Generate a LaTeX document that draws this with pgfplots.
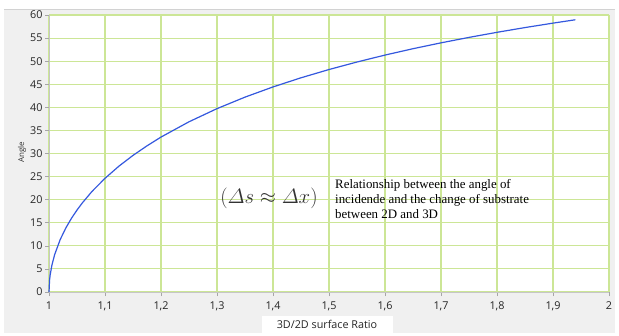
\documentclass[border=0pt]{standalone}
\usepackage{amsmath}
\usepackage{fontspec}
\setmainfont{Liberation Serif}
\newfontfamily\uifont{Open Sans}
\usepackage{pgfplots}
\pgfplotsset{compat=1.18}
\definecolor{gridgreen}{RGB}{204,230,150}
\definecolor{curveblue}{RGB}{52,88,222}
\definecolor{panelgray}{RGB}{240,240,240}
\begin{document}
\begin{tikzpicture}[x=1pt,y=1pt]
\useasboundingbox (0,0) rectangle (619,335);
\fill[panelgray] (4,2) rectangle (615,325);
\draw[gray!35,line width=1pt] (4,325) -- (615,325);
\begin{axis}[
  at={(49pt,43pt)}, anchor=south west,
  scale only axis, width=560pt, height=277pt,
  xmin=1, xmax=2, ymin=0, ymax=60,
  xtick={1,1.1,1.2,1.3,1.4,1.5,1.6,1.7,1.8,1.9,2},
  ytick={0,5,10,15,20,25,30,35,40,45,50,55,60},
  axis background/.style={fill=white},
  axis lines*=left,
  axis line style={gray!45, line width=0.8pt},
  tick align=outside,
  major tick length=4pt,
  tick style={gray!70, line width=0.6pt},
  xmajorgrids=true, ymajorgrids=true,
  major grid style={gridgreen, line width=1.1pt, solid},
  /pgf/number format/use comma,
  /pgf/number format/assume math mode=true,
  ticklabel style={font=\uifont\fontsize{10.8}{12}\selectfont, text=black!85},
  xticklabel style={yshift=-2pt},
  yticklabel style={xshift=1pt},
  clip=false,
]
\addplot[curveblue, line width=1.2pt] coordinates {
(1.000,0.00) (1.001,2.56) (1.002,3.62) (1.005,5.72) (1.01,8.07) (1.02,11.36)
(1.03,13.86) (1.04,15.94) (1.05,17.75) (1.06,19.37) (1.075,21.53) (1.08,22.19)
(1.1,24.62) (1.125,27.27) (1.15,29.59) (1.175,31.66) (1.2,33.56) (1.25,36.87)
(1.3,39.72) (1.35,42.21) (1.4,44.42) (1.45,46.40) (1.5,48.19) (1.55,49.82)
(1.6,51.32) (1.65,52.70) (1.7,53.97) (1.75,55.15) (1.8,56.25) (1.85,57.28)
(1.9,58.24) (1.94,58.97)
};
\end{axis}
\node[rotate=90, font=\uifont\fontsize{8}{9}\selectfont, text=black!80] at (22,183) {Angle};
\node[fill=white, minimum width=131pt, minimum height=17pt, inner sep=0pt,
      font=\uifont\fontsize{10.8}{12}\selectfont, text=black!85] at (327,10.5) {3D/2D surface Ratio};
\node[text=black!80, inner sep=0pt] at (269,137) {\fontsize{19.5}{22}\selectfont $(\varDelta s\approx\varDelta x)$};
\node[anchor=north west, align=left, inner sep=0pt, font=\fontsize{12.9}{15}\selectfont] at (335,156)
  {Relationship between the angle of\\incidende and the change of substrate\\between 2D and 3D};
\end{tikzpicture}
\end{document}
